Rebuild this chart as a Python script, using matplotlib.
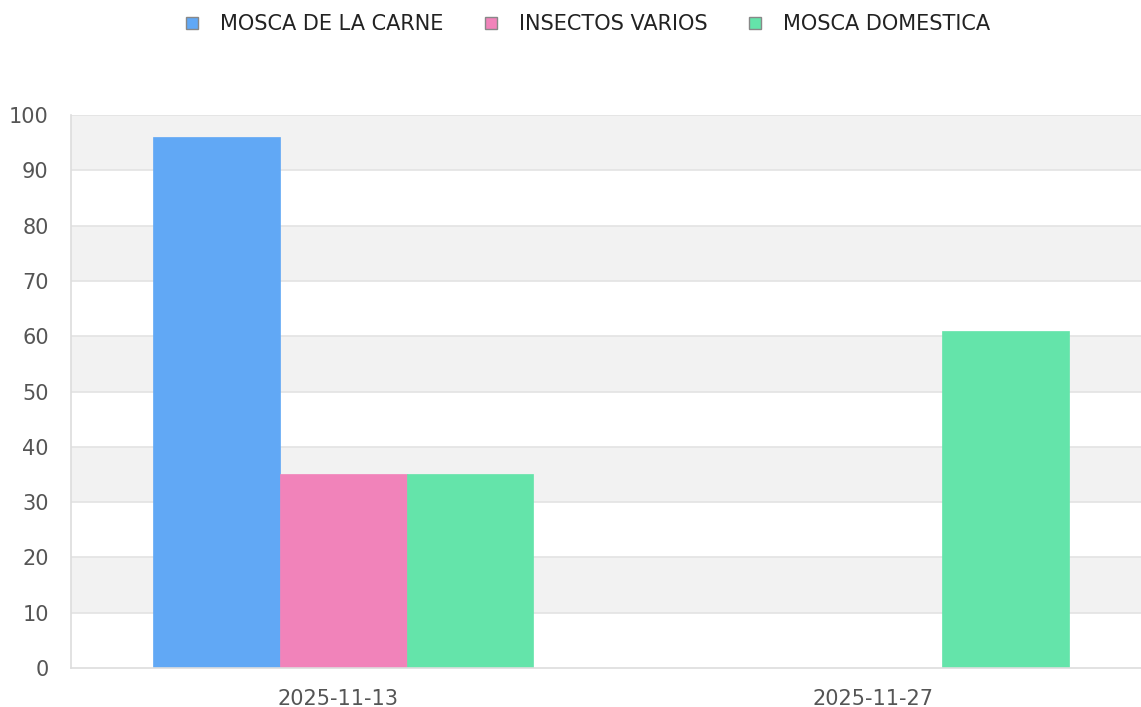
import matplotlib
matplotlib.use('Agg')
import matplotlib.pyplot as plt
import numpy as np

dates = ['2025-11-13', '2025-11-27']
series = ['MOSCA DE LA CARNE', 'INSECTOS VARIOS', 'MOSCA DOMESTICA']
carne = [96, 0]
varios = [35, 0]
domestica = [35, 61]
colors = ['#61a8f5', '#f183ba', '#64e4aa']


def main():
    plt.rcParams['font.family'] = ['DejaVu Sans']
    fig = plt.figure(figsize=(11.41, 7.07), dpi=100)
    ax = fig.add_axes([0.0622, 0.0552, 0.9378, 0.7821])

    # alternating bands
    for lo in range(10, 100, 20):
        ax.axhspan(lo, lo + 10, color='#f2f2f2', zorder=0, lw=0)
    for y in range(10, 101, 10):
        ax.axhline(y, color='#e3e3e3', lw=1.2, zorder=1)

    x = np.arange(len(dates))
    w = 0.237
    vals = [carne, varios, domestica]
    for i, (name, v) in enumerate(zip(series, vals)):
        ax.bar(x + (i - 1) * w + 0.009, v, width=w, color=colors[i],
               label=name, zorder=2, edgecolor=colors[i], lw=0.5)

    ax.set_xlim(-0.5, 1.5)
    ax.set_ylim(0, 100)
    ax.set_yticks(range(0, 101, 10))
    ax.set_xticks(x)
    ax.set_xticklabels(dates)
    ax.tick_params(axis='both', length=0, labelsize=15, colors='#555555')
    ax.tick_params(axis='y', pad=16)
    ax.tick_params(axis='x', pad=15)
    for s in ['top', 'right']:
        ax.spines[s].set_visible(False)
    for s in ['left', 'bottom']:
        ax.spines[s].set_color('#dddddd')
        ax.spines[s].set_linewidth(1.2)

    handles = [plt.Line2D([], [], marker='s', ls='', markersize=8,
                          markerfacecolor=c, markeredgecolor='#888888')
               for c in colors]
    leg = fig.legend(handles, series, loc='center', ncol=3,
                     bbox_to_anchor=(0.5135, 1 - 24 / 707), frameon=False,
                     fontsize=15, handlelength=1.0, handletextpad=0.85,
                     columnspacing=1.76, borderpad=0)
    for t in leg.get_texts():
        t.set_color('#222222')

    fig.savefig('out.png', dpi=100)
    plt.close(fig)


if __name__ == '__main__':
    main()
